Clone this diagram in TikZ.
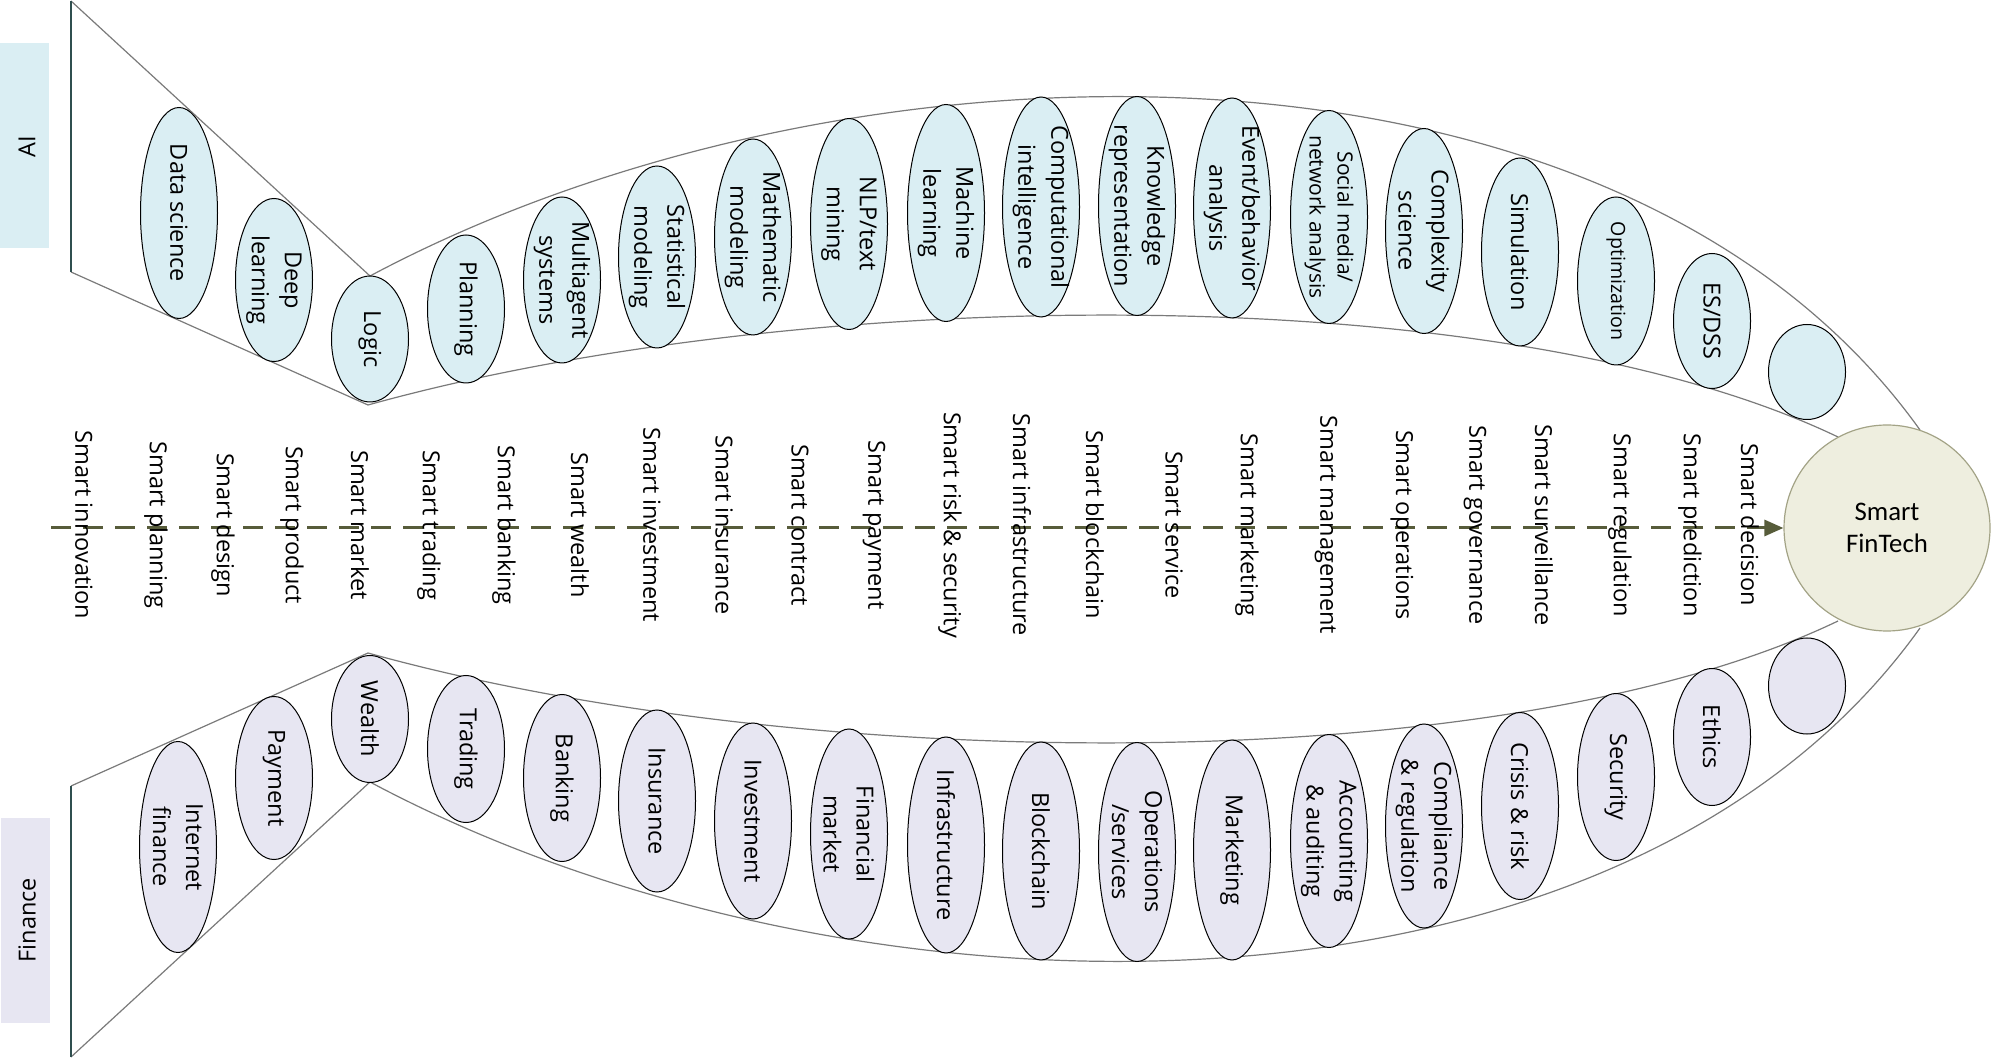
\documentclass[tikz,border=0pt]{standalone}
\usepackage{fontspec}
\setmainfont{Open Sans}
\newfontfamily\carlitofont{Carlito}
\usetikzlibrary{shapes.geometric,arrows.meta}
\definecolor{aifill}{HTML}{DAEEF3}
\definecolor{finfill}{HTML}{E7E6F2}
\definecolor{circfill}{HTML}{EEEEDF}
\definecolor{circline}{HTML}{A3A386}
\definecolor{arrowcol}{HTML}{575C3A}
\definecolor{stemcol}{HTML}{2F4F4F}
\definecolor{bandgray}{HTML}{7A7A7A}
\newcommand{\labfont}{\fontsize{11.75}{16.5}\selectfont}
\tikzset{
  band/.style={draw=bandgray, line width=0.6pt},
  stem/.style={draw=stemcol, line width=1.1pt},
  ea/.style={ellipse, draw=black, line width=0.5pt, fill=aifill, inner sep=0pt, minimum width=38.5pt, minimum height={#1*0.5pt}},
  eb/.style={ellipse, draw=black, line width=0.5pt, fill=finfill, inner sep=0pt, minimum width=38.5pt, minimum height={#1*0.5pt}},
  lab/.style={rotate=-90, align=center, inner sep=0pt, font=\labfont},
  smartlab/.style={rotate=-90, inner sep=0pt, font=\labfont},
  sidebox/.style={inner sep=0pt, minimum width=24.5pt, minimum height=102.5pt},
  arrowline/.style={draw=arrowcol, line width=1.5pt, dash pattern=on 10pt off 6pt, -{Triangle[length=9.5pt,width=8pt]}},
}
\newcommand{\tel}[6][]{\node[ea=#5] (#2) at (#3,#4) {}; \node[lab,#1] (#2-t) at (#2) {#6};}
\newcommand{\bel}[6][]{\node[eb=#5] (#2) at (#3,#4) {}; \node[lab,#1] (#2-t) at (#2) {#6};}
\begin{document}
\begin{tikzpicture}[x=0.5pt,y=-0.5pt]
\useasboundingbox (0,0) rectangle (1992,1058);

% side labels
\node[sidebox, fill=aifill] (aibox) at (24.5,145.5) {};
\node[rotate=90, inner sep=0pt, font=\labfont] (ailab) at (27,147) {AI};
\node[sidebox, fill=finfill] (finbox) at (25,920) {};
\node[rotate=90, inner sep=0pt, font=\labfont] (finlab) at (27,920) {Finance};

% key points
\coordinate (vt1) at (71,1);
\coordinate (vb1) at (71,272);
\coordinate (ltop) at (370,276);
\coordinate (lbot) at (368,405);
\coordinate (otopend) at (1920,430);
\coordinate (itopend) at (1838,437);
\coordinate (vt2) at (71,786);
\coordinate (vb2) at (71,1057);
\coordinate (wtop) at (368,653);
\coordinate (wbot) at (370,782);
\coordinate (obotend) at (1920,628);
\coordinate (ibotend) at (1838,621);

% bands
\draw[band] (vt1) -- (ltop);
\draw[band] (vb1) -- (lbot);
\draw[band] (ltop) .. controls (850,20) and (1620,10) .. (otopend);
\draw[band] (lbot) .. controls (800,285) and (1500,275) .. (itopend);
\draw[band] (vt2) -- (wtop);
\draw[band] (vb2) -- (wbot);
\draw[band] (wbot) .. controls (850,1038) and (1620,1048) .. (obotend);
\draw[band] (wtop) .. controls (800,773) and (1500,783) .. (ibotend);
\draw[stem] (vt1) -- (vb1);
\draw[stem] (vt2) -- (vb2);

% AI ellipses
\tel{ds}{179}{213}{211}{Data science}
\tel{dl}{274}{280}{163}{Deep\\learning}
\tel{logic}{370}{339}{126}{Logic}
\tel{plan}{466}{309}{148}{Planning}
\tel{mas}{562}{280}{166}{Multiagent\\systems}
\tel{stat}{657}{257}{182}{Statistical\\modeling}
\tel{math}{753}{237}{196}{Mathematic\\modeling}
\tel{nlp}{849}{224}{211}{NLP/text\\mining}
\tel{ml}{946}{213}{217}{Machine\\learning}
\tel{ci}{1041}{207}{220}{Computational\\intelligence}
\tel{kr}{1137}{206}{219}{Knowledge\\representation}
\tel{ebh}{1232}{208}{220}{Event/behavior\\analysis}
\tel[font=\fontsize{10.5}{14}\selectfont]{sm}{1329}{217}{213}{Social media/\\network analysis}
\tel{cs}{1424}{231}{205}{Complexity\\science}
\tel{sim}{1520}{252}{188}{Simulation}
\tel[font=\fontsize{9.8}{12}\selectfont]{opt}{1616}{281}{168}{Optimization}
\tel{es}{1712}{321}{135}{ES/DSS}
\tel{ae}{1807}{372}{95}{}

% Finance ellipses
\bel{inf}{178}{847}{211}{Internet\\finance}
\bel{pay}{274}{778}{163}{Payment}
\bel{wealth}{370}{719}{127}{Wealth}
\bel{trad}{466}{749}{147}{Trading}
\bel{bank}{562}{778}{167}{Banking}
\bel{ins}{657}{801}{182}{Insurance}
\bel{inv}{753}{821}{196}{Investment}
\bel{fm}{849}{834}{210}{Financial\\market}
\bel{infra}{946}{845}{216}{Infrastructure}
\bel{bc}{1041}{851}{218}{Blockchain}
\bel{ops}{1137}{852}{219}{Operations\\/services}
\bel{mkt}{1232}{850}{220}{Marketing}
\bel{acc}{1329}{841}{213}{Accounting\\\& auditing}
\bel{comp}{1424}{826}{204}{Compliance\\\& regulation}
\bel{cr}{1520}{806}{187}{Crisis \& risk}
\bel{sec}{1616}{777}{167}{Security}
\bel{eth}{1712}{737}{137}{Ethics}
\bel{fe}{1807}{686}{96}{}

% central circle
\node[circle, draw=circline, line width=0.6pt, fill=circfill, minimum size=103pt, inner sep=0pt, align=center, font=\carlitofont\fontsize{13.4}{16}\selectfont] (fin) at (1887,528) {Smart\\FinTech};

% dashed arrow
\coordinate (astart) at (51,528);
\draw[arrowline] (astart) -- (fin.west);

% Smart labels
\node[smartlab] (s01) at (84,525) {Smart innovation};
\node[smartlab] (s02) at (156,525) {Smart planning};
\node[smartlab] (s03) at (223,525) {Smart design};
\node[smartlab] (s04) at (292,525) {Smart product};
\node[smartlab] (s05) at (360,525) {Smart market};
\node[smartlab] (s06) at (429,525) {Smart trading};
\node[smartlab] (s07) at (504,525) {Smart banking};
\node[smartlab] (s08) at (580,525) {Smart wealth};
\node[smartlab] (s09) at (652,525) {Smart investment};
\node[smartlab] (s10) at (724,525) {Smart insurance};
\node[smartlab] (s11) at (800,525) {Smart contract};
\node[smartlab] (s12) at (874,525) {Smart payment};
\node[smartlab] (s13) at (950,525) {Smart risk \& security};
\node[smartlab] (s14) at (1022,525) {Smart infrastructure};
\node[smartlab] (s15) at (1095,525) {Smart blockchain};
\node[smartlab] (s16) at (1174,525) {Smart service};
\node[smartlab] (s17) at (1247,525) {Smart marketing};
\node[smartlab] (s18) at (1326,525) {Smart management};
\node[smartlab] (s19) at (1402,525) {Smart operations};
\node[smartlab] (s20) at (1475,525) {Smart governance};
\node[smartlab] (s21) at (1544,525) {Smart surveillance};
\node[smartlab] (s22) at (1620,525) {Smart regulation};
\node[smartlab] (s23) at (1690,525) {Smart prediction};
\node[smartlab] (s24) at (1750,525) {Smart decision};
\end{tikzpicture}
\end{document}
